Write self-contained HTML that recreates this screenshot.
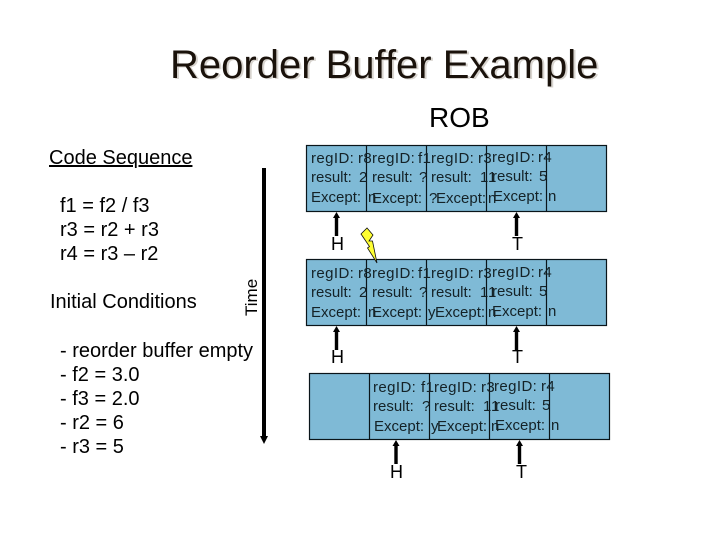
<!DOCTYPE html>
<html><head><meta charset="utf-8"><style>
html,body{margin:0;padding:0;background:#fff}
svg{display:block}
text{font-family:"Liberation Sans",sans-serif;fill:#000}
.c text{font-size:15px;fill:#142227}
.c .r{letter-spacing:.4px}
</style></head><body>
<svg width="720" height="540" viewBox="0 0 720 540" xmlns="http://www.w3.org/2000/svg">
<text x="172" y="79" font-size="40" style="fill:#d8d4cf">Reorder Buffer Example</text>
<text x="170" y="78" font-size="40" style="fill:#1a120b">Reorder Buffer Example</text>
<text x="429" y="127" font-size="28">ROB</text>

<text x="49" y="164" font-size="20" text-decoration="underline">Code Sequence</text>
<text x="60" y="212" font-size="20">f1 = f2 / f3</text>
<text x="60" y="236" font-size="20">r3 = r2 + r3</text>
<text x="60" y="260" font-size="20">r4 = r3 – r2</text>
<text x="50" y="308" font-size="20">Initial Conditions</text>
<text x="60" y="357" font-size="20">- reorder buffer empty</text>
<text x="60" y="381" font-size="20">- f2 = 3.0</text>
<text x="60" y="405" font-size="20">- f3 = 2.0</text>
<text x="60" y="429" font-size="20">- r2 = 6</text>
<text x="60" y="453" font-size="20">- r3 = 5</text>
<text transform="translate(257,316) rotate(-90)" font-size="17">Time</text>
<path d="M264 168V438" stroke="#000" stroke-width="4"/>
<path d="M260 436H268L264 444z" fill="#000"/>

<g fill="#7fbad6" stroke="#0a151a" stroke-width="1.2">
<rect x="306.500" y="145.500" width="300" height="66"/>
<path d="M366.500 145.500V211.500M426.500 145.500V211.500M486.500 145.500V211.500M546.500 145.500V211.500" fill="none"/>
<rect x="306.500" y="259.500" width="300" height="66"/>
<path d="M366.500 259.500V325.500M426.500 259.500V325.500M486.500 259.500V325.500M546.500 259.500V325.500" fill="none"/>
<rect x="309.500" y="373.500" width="300" height="66"/>
<path d="M369.500 373.500V439.500M429.500 373.500V439.500M489.500 373.500V439.500M549.500 373.500V439.500" fill="none"/>
</g>

<g class="c">
<text class="r" x="311" y="163">regID:<tspan x="358">r8</tspan></text>
<text x="311" y="182">result:<tspan x="359">2</tspan></text>
<text x="311" y="202">Except:<tspan x="368">n</tspan></text>
<text class="r" x="372" y="163">regID:<tspan x="418">f1</tspan></text>
<text x="372" y="182">result:<tspan x="419">?</tspan></text>
<text x="372" y="203">Except:<tspan x="429">?</tspan></text>
<text class="r" x="431" y="163">regID:<tspan x="478">r3</tspan></text>
<text x="431" y="182">result:<tspan x="480">1</tspan><tspan x="488">1</tspan></text>
<text x="436" y="203">Except:<tspan x="488">n</tspan></text>
<text class="r" x="492" y="162">regID:<tspan x="538">r4</tspan></text>
<text x="492" y="181">result:<tspan x="539">5</tspan></text>
<text x="493" y="201">Except:<tspan x="548">n</tspan></text>

<text class="r" x="311" y="278">regID:<tspan x="358">r8</tspan></text>
<text x="311" y="297">result:<tspan x="359">2</tspan></text>
<text x="311" y="317">Except:<tspan x="368">n</tspan></text>
<text class="r" x="372" y="278">regID:<tspan x="418">f1</tspan></text>
<text x="372" y="297">result:<tspan x="419">?</tspan></text>
<text x="372" y="317">Except:<tspan x="428">y</tspan></text>
<text class="r" x="431" y="278">regID:<tspan x="478">r3</tspan></text>
<text x="431" y="297">result:<tspan x="480">1</tspan><tspan x="488">1</tspan></text>
<text x="435" y="317">Except:<tspan x="488">n</tspan></text>
<text class="r" x="492" y="277">regID:<tspan x="538">r4</tspan></text>
<text x="492" y="296">result:<tspan x="539">5</tspan></text>
<text x="492" y="316">Except:<tspan x="548">n</tspan></text>

<text class="r" x="373" y="392">regID:<tspan x="421">f1</tspan></text>
<text x="373" y="411">result:<tspan x="422">?</tspan></text>
<text x="374" y="431">Except:<tspan x="431">y</tspan></text>
<text class="r" x="434" y="392">regID:<tspan x="481">r3</tspan></text>
<text x="434" y="411">result:<tspan x="483">1</tspan><tspan x="491">1</tspan></text>
<text x="437" y="431">Except:<tspan x="491">n</tspan></text>
<text class="r" x="494" y="391">regID:<tspan x="541">r4</tspan></text>
<text x="495" y="410">result:<tspan x="542">5</tspan></text>
<text x="495" y="430">Except:<tspan x="551">n</tspan></text>
</g>

<g stroke="#000" stroke-width="3.4" fill="none">
<path d="M336.500 217V236M516.500 217V236M336.500 331V350M516.500 331V350M396 445V464M519.500 445V464"/>
</g>
<g fill="#000">
<path d="M333 218L336.500 212L340 218z"/><path d="M513 218L516.500 212L520 218z"/>
<path d="M333 332L336.500 326L340 332z"/><path d="M513 332L516.500 326L520 332z"/>
<path d="M392.500 446L396 440L399.500 446z"/><path d="M516 446L519.500 440L523 446z"/>
</g>
<g font-size="18">
<text x="331" y="250">H</text><text x="512" y="250">T</text>
<text x="331" y="363">H</text><text x="512" y="363">T</text>
<text x="390" y="478">H</text><text x="516" y="478">T</text>
</g>
<path d="M361 234L367 228L373 235L369 241L372.500 241L377 263L367.500 248L369.500 246.500z" fill="#ffff33" stroke="#111" stroke-width="0.8"/>
</svg>
</body></html>
